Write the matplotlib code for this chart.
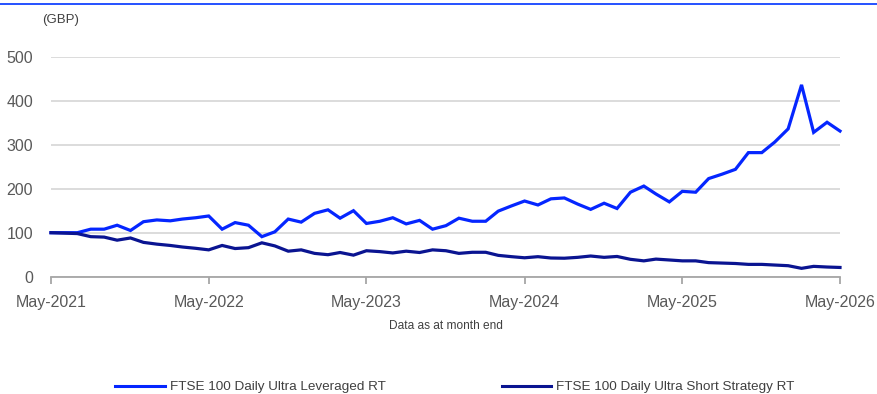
import matplotlib.pyplot as plt
import matplotlib.dates as mdates
from matplotlib.lines import Line2D
import pandas as pd

plt.rcParams['font.family'] = ['Liberation Sans', 'DejaVu Sans']

# month-end values, rebased to 100 (May-2021 .. May-2026)
months = pd.date_range("2021-05-01", "2026-05-01", freq="MS")

leveraged = [
    100, 100, 100, 108, 108, 117, 105, 125, 129, 127,
    131, 134, 138, 108, 123, 117, 91, 102, 131, 124,
    144, 152, 133, 150, 121, 126, 134, 120, 128, 108,
    116, 133, 126, 126, 149, 161, 172, 163, 177, 179,
    165, 153, 167, 155, 192, 206, 188, 170, 194, 192,
    223, 233, 244, 282, 282, 306, 336, 436, 328, 351,
    331,
]
short = [
    100, 99, 98, 91, 90, 83, 88, 78, 74, 71,
    67.5, 64.5, 61, 71, 64, 66, 77, 70, 58, 61,
    53, 50, 55, 49, 59, 57, 54, 58, 55, 61,
    59, 53, 55.5, 55.5, 48.5, 45.5, 43, 45.5, 42.5, 42,
    44, 47, 44, 46, 39.5, 36, 40, 38, 36, 36,
    32, 31, 30, 28, 28, 26.5, 25, 19, 23.5, 22,
    21,
]
series_names = ["FTSE 100 Daily Ultra Leveraged RT",
                "FTSE 100 Daily Ultra Short Strategy RT"]
y_ticks = [0, 100, 200, 300, 400, 500]

col_lev = "#0526FF"
col_short = "#0A1491"
txt_grey = "#595959"

fig = plt.figure(figsize=(8.78, 3.94), dpi=100)
ax = fig.add_axes([51 / 878, 1 - 276.7 / 394, 789 / 878, 220 / 394])

ax.plot(months, leveraged, color=col_lev, lw=2.3, solid_joinstyle="miter",
        clip_on=False, zorder=3)
ax.plot(months, short, color=col_short, lw=2.3, solid_joinstyle="miter",
        clip_on=False, zorder=3)

ax.set_ylim(0, 500)
ax.set_yticks(y_ticks)
ax.set_xlim(months[0], months[-1])
ax.xaxis.set_major_locator(mdates.MonthLocator(bymonth=5))
ax.xaxis.set_major_formatter(mdates.DateFormatter("%b-%Y"))

ax.grid(axis="y", color="#D9D9D9", lw=1.3)
ax.set_axisbelow(True)
for side in ["top", "right", "left"]:
    ax.spines[side].set_visible(False)
ax.spines["bottom"].set_color("#A6A6A6")
ax.spines["bottom"].set_linewidth(1.3)

ax.tick_params(axis="y", length=0, pad=13, labelsize=11.5, labelcolor=txt_grey)
ax.tick_params(axis="x", length=5, width=1.3, color="#A6A6A6", pad=8,
               labelsize=11.5, labelcolor=txt_grey)

fig.text(42 / 878, 1 - 20 / 394, "(GBP)", fontsize=9.5, color="#404040",
         va="center", ha="left")
fig.text(446 / 878, 1 - 326 / 394, "Data as at month end", fontsize=8.6,
         color="#404040", ha="center", va="center")

# thin rule along the top edge
fig.add_artist(Line2D([0, 1], [1 - 4 / 394, 1 - 4 / 394], color="#0033FF",
                      lw=1.2, transform=fig.transFigure))

handles = [Line2D([], [], color=col_lev, lw=2.2),
           Line2D([], [], color=col_short, lw=2.2)]
fig.legend(handles, series_names, ncol=2, loc="center left",
           bbox_to_anchor=(115 / 878, 1 - 387 / 394), frameon=False,
           borderpad=0, borderaxespad=0, handlelength=3.7, handletextpad=0.37,
           columnspacing=8.6, prop={"size": 9.7},
           labelcolor="#404040")

fig.savefig("out.png", dpi=100)
